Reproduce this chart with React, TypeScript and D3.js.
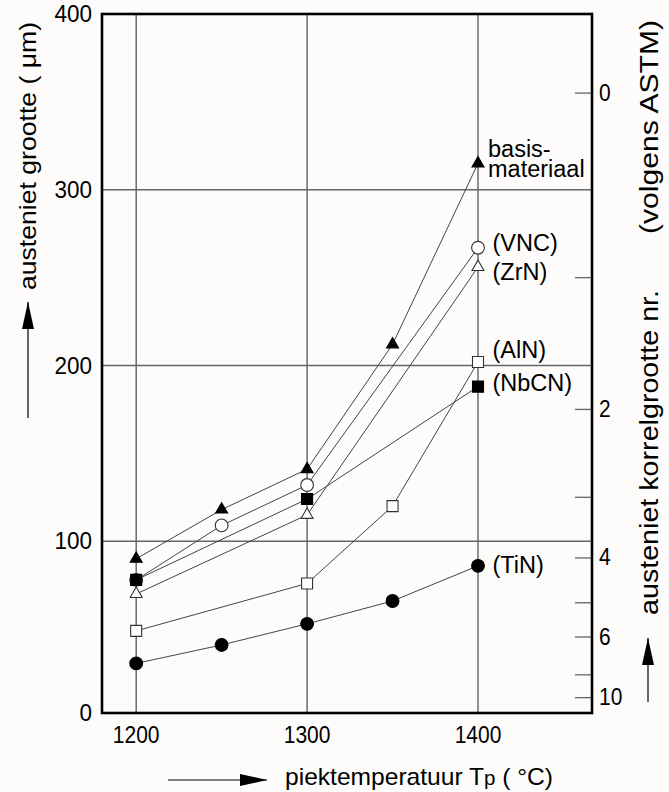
import React from "react";
import * as d3 from "d3";

const xTicks = [1200, 1300, 1400];
const yTicks = [0, 100, 200, 300, 400];
const yGrid = [100, 200, 300];

// ASTM grain size numbers on the right axis, positioned by their equivalent in µm
const astmLabels = ["0", "", "2", "", "4", "", "6", "", "10"];
const astmMicron = [355, 250, 175, 125, 90.5, 65, 45.5, 24, 11];

type Pt = [number, number];
const basisT: Pt[] = [[1200, 90], [1250, 118], [1300, 141], [1350, 212], [1400, 315]];
const vncT: Pt[] = [[1200, 78], [1250, 109], [1300, 132], [1400, 267]];
const zrnT: Pt[] = [[1200, 70], [1300, 115], [1400, 256]];
const alnT: Pt[] = [[1200, 49], [1300, 76], [1350, 120], [1400, 202]];
const nbcnT: Pt[] = [[1200, 78], [1300, 124], [1400, 188]];
const tinT: Pt[] = [[1200, 30.5], [1250, 41], [1300, 53], [1350, 66], [1400, 86]];

const seriesNames = ["basis-\nmateriaal", "(VNC)", "(ZrN)", "(AlN)", "(NbCN)", "(TiN)"];
const seriesData = [basisT, vncT, zrnT, alnT, nbcnT, tinT];
const seriesSymbol = ["triangle", "circle", "triangle", "square", "square", "circle"];
const seriesFilled = [true, false, false, false, true, true];
// baseline of each series name, expressed in µm
const labelValue = [318.8, 265.3, 248.6, 204, 185.7, 81.7];

const W = 669, H = 792;
const left = 102, right = 592, top = 14, bottom = 713;

export default function App() {
  const x = d3.scaleLinear().domain([1180, 1466.7]).range([left, right]);
  const y = d3.scaleLinear().domain([0, 400]).range([717, top]);
  const line = d3.line<Pt>().x(d => x(d[0])).y(d => y(d[1]));
  const font = "'Liberation Sans', Arial, Helvetica, sans-serif";

  const symPath = (kind: string) => {
    if (kind === "triangle") return d3.symbol(d3.symbolTriangle, 62)()!;
    if (kind === "square") return d3.symbol(d3.symbolSquare, 121)()!;
    return d3.symbol(d3.symbolCircle, 128)()!;
  };

  const order = [1, 0, 2, 3, 4, 5];

  return (
    <svg width={W} height={H} style={{ position: "absolute", left: 0, top: 0 }}>
      <defs>
        <marker id="ah" viewBox="0 0 27 12" refX="27" refY="6" markerWidth="27" markerHeight="12" markerUnits="userSpaceOnUse" orient="auto">
          <path d="M0,0 L27,6 L0,12 z" fill="#000" />
        </marker>
      </defs>
      <rect x={0} y={0} width={W} height={H} fill="#fdfcfa" />
      {xTicks.map(t => (
        <line key={"gx" + t} x1={x(t)} x2={x(t)} y1={top} y2={bottom} stroke="#555" strokeWidth={1.3} />
      ))}
      {yGrid.map(t => (
        <line key={"gy" + t} x1={left} x2={right} y1={y(t)} y2={y(t)} stroke="#666" strokeWidth={1.3} />
      ))}
      {astmMicron.map((v, i) => (
        <line key={"rt" + i} x1={right - 17} x2={right} y1={y(v)} y2={y(v)} stroke="#666" strokeWidth={1.3} />
      ))}
      {order.map(i => (
        <path key={"l" + i} d={line(seriesData[i])!} fill="none" stroke="#444" strokeWidth={1} />
      ))}
      {order.map(i =>
        seriesData[i].map((d, j) => (
          <path
            key={"m" + i + "-" + j}
            d={symPath(seriesSymbol[i])}
            transform={`translate(${x(d[0])},${y(d[1])})`}
            fill={seriesFilled[i] ? "#000" : "#fff"}
            stroke={seriesFilled[i] ? "#000" : "#333"}
            strokeWidth={1.1}
          />
        ))
      )}
      <rect x={left} y={top} width={right - left} height={bottom - top} fill="none" stroke="#000" strokeWidth={2.6} />
      {/* left tick labels */}
      {yTicks.map(t => (
        <text key={"yl" + t} transform={`translate(92,${Math.min(y(t), 713) + 8}) scale(1,1.1)`} textAnchor="end" fontFamily={font} fontSize={22.5}>
          {t}
        </text>
      ))}
      {/* bottom tick labels */}
      {xTicks.map(t => (
        <text key={"xl" + t} transform={`translate(${x(t)},742.5) scale(1,1.18)`} textAnchor="middle" fontFamily={font} fontSize={21}>
          {t}
        </text>
      ))}
      {/* right labels */}
      {astmMicron.map((v, i) =>
        astmLabels[i] ? (
          <text key={"rl" + i} transform={`translate(599,${y(v) + 7.5}) scale(1,1.1)`} fontFamily={font} fontSize={21}>
            {astmLabels[i]}
          </text>
        ) : null
      )}
      {/* series names */}
      {seriesNames.map((n, i) => {
        const parts = n.split("\n");
        const tx = i === 0 ? 488 : 492.5;
        return (
          <text key={"sn" + i} x={tx} y={y(labelValue[i])} fontFamily={font} fontSize={23.5}>
            {parts.map((p, k) => (
              <tspan key={k} x={tx} dy={k === 0 ? 0 : 20}>
                {p}
              </tspan>
            ))}
          </text>
        );
      })}
      {/* left axis title */}
      <text transform="translate(36,290) rotate(-90)" fontFamily={font} fontSize={24} textLength={268} lengthAdjust="spacingAndGlyphs">
        austeniet grootte ( μm)
      </text>
      <line x1={28} x2={28} y1={418} y2={302} stroke="#000" strokeWidth={1.2} markerEnd="url(#ah)" />
      {/* right axis title */}
      <text transform="translate(658,615) rotate(-90)" fontFamily={font} fontSize={26} textLength={325} lengthAdjust="spacingAndGlyphs">
        austeniet korrelgrootte nr.
      </text>
      <text transform="translate(658,234) rotate(-90)" fontFamily={font} fontSize={26} textLength={214} lengthAdjust="spacingAndGlyphs">
        (volgens ASTM)
      </text>
      <line x1={648} x2={648} y1={702} y2={638} stroke="#000" strokeWidth={1.2} markerEnd="url(#ah)" />
      {/* bottom title */}
      <line x1={168} x2={267} y1={780} y2={780} stroke="#000" strokeWidth={1.2} markerEnd="url(#ah)" />
      <text x={285} y={785} fontFamily={font} fontSize={24} textLength={268} lengthAdjust="spacingAndGlyphs">
        piektemperatuur T<tspan fontSize={20}>p</tspan> ( °C)
      </text>
    </svg>
  );
}
